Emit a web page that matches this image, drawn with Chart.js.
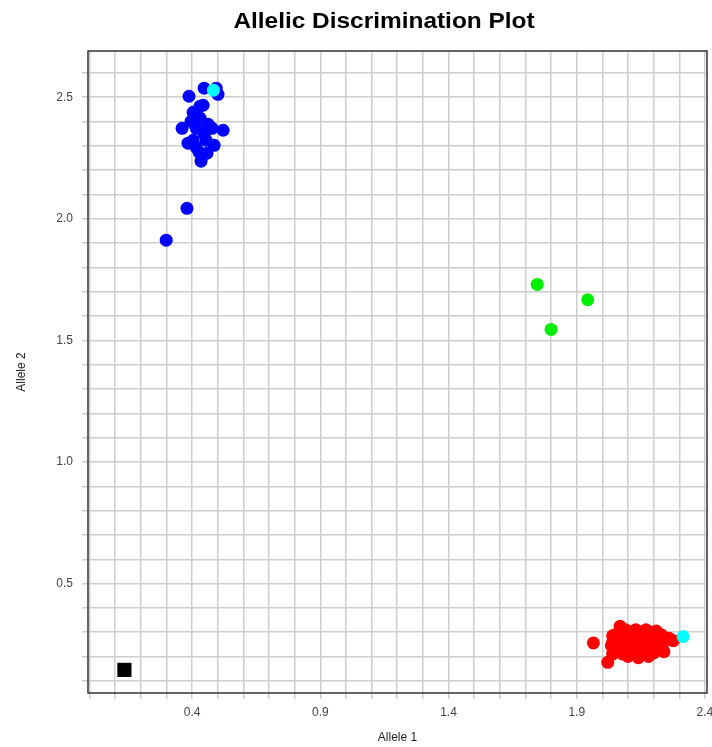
<!DOCTYPE html>
<html>
<head>
<meta charset="utf-8">
<script src="https://cdn.jsdelivr.net/npm/chart.js@4.4.1/dist/chart.umd.min.js"></script>
<style>
    html, body { margin: 0; padding: 0; background: #fff; }
</style>
</head>
<body>
<canvas id="allelic" width="712" height="747"></canvas>
<script>
// values: [Allele 1, Allele 2]
const allele2Homo = [
    [0.388, 2.504], [0.447, 2.537], [0.494, 2.537], [0.501, 2.512], [0.443, 2.467],
    [0.404, 2.438], [0.431, 2.414], [0.462, 2.389], [0.361, 2.372], [0.521, 2.364],
    [0.416, 2.372], [0.447, 2.348], [0.478, 2.372], [0.384, 2.311], [0.416, 2.294],
    [0.455, 2.323], [0.486, 2.302], [0.427, 2.274], [0.458, 2.270], [0.435, 2.237],
    [0.404, 2.323], [0.396, 2.401], [0.431, 2.463], [0.380, 2.043], [0.299, 1.912]
];
const allele1Homo = [
    [1.965, 0.256], [2.021, 0.176], [2.069, 0.324], [2.277, 0.265],
    [2.05, 0.29], [2.07, 0.30], [2.09, 0.31], [2.11, 0.30], [2.13, 0.31], [2.15, 0.30],
    [2.17, 0.31], [2.19, 0.30], [2.21, 0.305], [2.23, 0.29],
    [2.04, 0.26], [2.06, 0.27], [2.08, 0.26], [2.10, 0.27], [2.12, 0.26], [2.14, 0.27],
    [2.16, 0.26], [2.18, 0.27], [2.20, 0.26], [2.22, 0.27], [2.24, 0.26], [2.26, 0.275],
    [2.05, 0.23], [2.07, 0.24], [2.09, 0.23], [2.11, 0.24], [2.13, 0.23], [2.15, 0.24],
    [2.17, 0.23], [2.19, 0.24], [2.21, 0.23], [2.23, 0.24],
    [2.04, 0.21], [2.08, 0.21], [2.12, 0.21], [2.16, 0.21], [2.20, 0.215], [2.24, 0.22],
    [2.10, 0.20], [2.14, 0.195], [2.18, 0.20], [2.035, 0.245], [2.04, 0.285]
];
const hetero = [[1.746, 1.730], [1.943, 1.667], [1.800, 1.545]];
const controls = [[0.483, 2.529], [2.315, 0.282]];
const noTemplate = [[0.136, 0.145]];

const xTicks = [0.0, 0.1, 0.2, 0.3, 0.4, 0.5, 0.6, 0.7, 0.8, 0.9, 1.0, 1.1, 1.2,
    1.3, 1.4, 1.5, 1.6, 1.7, 1.8, 1.9, 2.0, 2.1, 2.2, 2.3, 2.4];
const xLabels = ['0.4', '0.9', '1.4', '1.9', '2.4'];
const yTicks = [0.1, 0.2, 0.3, 0.4, 0.5, 0.6, 0.7, 0.8, 0.9, 1.0, 1.1, 1.2, 1.3,
    1.4, 1.5, 1.6, 1.7, 1.8, 1.9, 2.0, 2.1, 2.2, 2.3, 2.4, 2.5, 2.6];
const yLabels = ['0.5', '1.0', '1.5', '2.0', '2.5'];

function toPoints(arr) {
    return arr.map(function (p) { return { x: p[0], y: p[1] }; });
}

const gridColor = '#cdcdcd';
const fontFam = "'Liberation Sans', Arial, sans-serif";

const framePlugin = {
    id: 'frame',
    beforeDatasetsDraw(chart) {
        const c = chart.ctx;
        const a = chart.chartArea;
        c.save();
        c.strokeStyle = '#333';
        c.lineWidth = 1.5;
        c.strokeRect(a.left, a.top, a.right - a.left, a.bottom - a.top);
        c.restore();
    },
    afterDraw(chart) {
        // title, slightly stretched like the original
        const c = chart.ctx;
        c.save();
        c.font = 'bold 22px ' + fontFam;
        c.fillStyle = '#000';
        c.textAlign = 'center';
        c.textBaseline = 'alphabetic';
        c.translate(384, 28);
        c.scale(1.11, 1);
        c.fillText('Allelic Discrimination Plot', 0, 0);
        c.restore();
    }
};

const ctx = document.getElementById('allelic');
const plot = new Chart(ctx, {
    type: 'scatter',
    data: {
        datasets: [
            { label: 'Controls', data: toPoints(controls), backgroundColor: '#00ffff', order: 0 },
            { label: 'NTC', data: toPoints(noTemplate), backgroundColor: '#000000', pointStyle: 'rect', pointRadius: 10, order: 1 },
            { label: 'Allele 2', data: toPoints(allele2Homo), backgroundColor: '#0000ff', order: 2 },
            { label: 'Heterozygous', data: toPoints(hetero), backgroundColor: '#00ee00', order: 3 },
            { label: 'Allele 1', data: toPoints(allele1Homo), backgroundColor: '#ff0000', order: 4 }
        ]
    },
    options: {
        responsive: false,
        animation: false,
        events: [],
        layout: { autoPadding: false, padding: { top: 51, right: 5, left: 0, bottom: 0 } },
        elements: {
            point: { radius: 6.5, borderWidth: 0, hoverRadius: 6.5 }
        },
        plugins: {
            legend: { display: false },
            title: { display: false },
            tooltip: { enabled: false }
        },
        scales: {
            x: {
                type: 'linear',
                min: -0.006,
                max: 2.408,
                afterBuildTicks: function (s) { s.ticks = xTicks.map(function (v) { return { value: v }; }); },
                afterFit: function (s) { s.height = 54; s.paddingLeft = 0; s.paddingRight = 0; },
                grid: { color: gridColor, lineWidth: 1.5, tickLength: 6 },
                border: { display: false },
                ticks: {
                    autoSkip: false,
                    maxRotation: 0,
                    padding: 6,
                    color: '#444',
                    font: { family: fontFam, size: 12 },
                    callback: function (v) {
                        const s = Number(v).toFixed(1);
                        return xLabels.indexOf(s) >= 0 ? s : '';
                    }
                },
                title: {
                    display: true,
                    text: 'Allele 1',
                    color: '#222',
                    font: { family: fontFam, size: 12 },
                    padding: { top: 0, bottom: 2 }
                }
            },
            y: {
                type: 'linear',
                min: 0.05,
                max: 2.69,
                afterBuildTicks: function (s) { s.ticks = yTicks.map(function (v) { return { value: v }; }); },
                afterFit: function (s) { s.width = 88; s.paddingTop = 0; s.paddingBottom = 0; },
                grid: { color: gridColor, lineWidth: 1.5, tickLength: 6 },
                border: { display: false },
                ticks: {
                    autoSkip: false,
                    padding: 9,
                    color: '#444',
                    font: { family: fontFam, size: 12 },
                    callback: function (v) {
                        const s = Number(v).toFixed(1);
                        return yLabels.indexOf(s) >= 0 ? s : '';
                    }
                },
                title: {
                    display: true,
                    text: 'Allele 2',
                    color: '#222',
                    font: { family: fontFam, size: 12 },
                    padding: { top: 14, bottom: 0 }
                }
            }
        }
    },
    plugins: [framePlugin]
});
</script>
</body>
</html>
